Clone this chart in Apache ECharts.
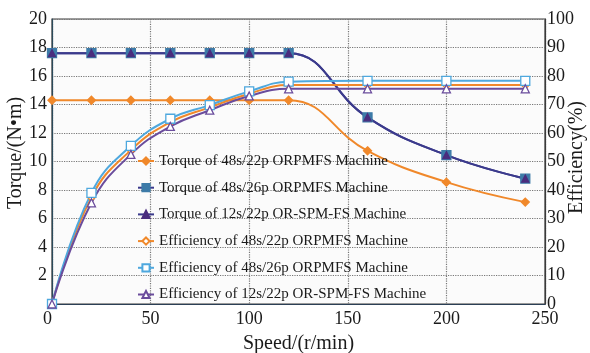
<!DOCTYPE html>
<html>
<head>
<meta charset="utf-8">
<script src="https://cdn.jsdelivr.net/npm/echarts@6/dist/echarts.min.js"></script>
<style>html,body{margin:0;padding:0;background:#fff;}#c{width:590px;height:353px;}</style>
</head>
<body>
<div id="c"></div>
<script>
var speeds = [0, 20, 40, 60, 80, 100, 120, 160, 200, 240];
var torque48s22p = [14.3, 14.3, 14.3, 14.3, 14.3, 14.3, 14.3, 10.75, 8.55, 7.15];
var torque48s26p = [17.6, 17.6, 17.6, 17.6, 17.6, 17.6, 17.6, 13.1, 10.45, 8.8];
var torque12s22p = [17.6, 17.6, 17.6, 17.6, 17.6, 17.6, 17.6, 13.1, 10.45, 8.8];
var eff48s22p = [0, 37.5, 54, 63.8, 69, 73.8, 76.8, 76.8, 76.8, 76.8];
var eff48s26p = [0, 39, 55.5, 65, 69.8, 74.6, 78, 78.3, 78.3, 78.3];
var eff12s22p = [0, 35.5, 52.5, 62.3, 68, 73, 75.5, 75.5, 75.5, 75.5];
var seriesNames = [
  'Torque of 48s/22p ORPMFS Machine',
  'Torque of 48s/26p ORPMFS Machine',
  'Torque of 12s/22p OR-SPM-FS Machine',
  'Efficiency of 48s/22p ORPMFS Machine',
  'Efficiency of 48s/26p ORPMFS Machine',
  'Efficiency of 12s/22p OR-SPM-FS Machine'
];

function pairs(ys) { return speeds.map(function (x, i) { return [x, ys[i]]; }); }

var ORANGE = '#F0882A', NAVY = '#3B3A8C', STEEL = '#3D7BA8', PURPLE = '#4A2D7E',
    LBLUE = '#4EA8DE', LPURPLE = '#6A4C9C';
var FONT = '"Liberation Serif", "Times New Roman", serif';

function mk(name, data, yIdx, lineColor, symbol, size, fill, border) {
  return {
    name: name, type: 'line', yAxisIndex: yIdx, data: pairs(data), smooth: 0.45,
    symbol: symbol, symbolSize: size,
    lineStyle: { color: lineColor, width: 2 },
    itemStyle: { color: fill, borderColor: border, borderWidth: 1.3 },
    emphasis: { disabled: true }
  };
}

var chart = echarts.init(document.getElementById('c'), null, { renderer: 'canvas' });
chart.setOption({
  animation: false,
  backgroundColor: '#fff',
  textStyle: { fontFamily: FONT },
  grid: { left: 52, right: 45, top: 19, bottom: 49, containLabel: false, outerBoundsMode: 'none',
          show: true, borderColor: '#3a3a3a', borderWidth: 1.2, backgroundColor: '#fbfbfb' },
  legend: {
    orient: 'vertical', left: 132, top: 148,
    itemWidth: 16, itemHeight: 9, itemGap: 10.7,
    textStyle: { fontFamily: FONT, fontSize: 15, color: '#1a1a1a', lineHeight: 16 },
    data: seriesNames
  },
  xAxis: {
    type: 'value', min: 0, max: 250, interval: 50,
    name: 'Speed/(r/min)', nameLocation: 'middle', nameGap: 30,
    nameTextStyle: { fontFamily: FONT, fontSize: 20, color: '#1a1a1a' },
    axisLine: { lineStyle: { color: '#2b3f55', width: 1.2 } },
    axisTick: { show: false },
    axisLabel: { fontFamily: FONT, fontSize: 18, color: '#1a1a1a', margin: 6, alignMinLabel: 'right' },
    splitLine: { show: true, lineStyle: { color: '#777', type: 'dotted', width: 1.2 } }
  },
  yAxis: [{
    type: 'value', min: 0, max: 20, interval: 2,
    name: 'Torque/(N•m)', nameLocation: 'middle', nameGap: 26, nameRotate: 90, nameMoveOverlap: false,
    nameTextStyle: { fontFamily: FONT, fontSize: 20, color: '#1a1a1a', padding: [0, 0, 0, 17] },
    axisLine: { show: true, lineStyle: { color: '#2b4a5a', width: 1.2 } },
    axisTick: { show: false },
    axisLabel: { fontFamily: FONT, fontSize: 18, color: '#1a1a1a', margin: 5, showMinLabel: false },
    splitLine: { show: true, lineStyle: { color: '#777', type: 'dotted', width: 1.2 } }
  }, {
    type: 'value', min: 0, max: 100, interval: 10, position: 'right',
    name: 'Efficiency(%)', nameLocation: 'middle', nameGap: 22, nameRotate: 90, nameMoveOverlap: false,
    nameTextStyle: { fontFamily: FONT, fontSize: 20, color: '#1a1a1a', padding: [0, 0, 0, 8] },
    axisLine: { show: true, lineStyle: { color: '#3a3a3a', width: 1.2 } },
    axisTick: { show: false },
    axisLabel: { fontFamily: FONT, fontSize: 18, color: '#1a1a1a', margin: 2 },
    splitLine: { show: false }
  }],
  series: [
    mk(seriesNames[0], torque48s22p, 0, ORANGE, 'diamond', 8, ORANGE, ORANGE),
    mk(seriesNames[1], torque48s26p, 0, NAVY, 'rect', 9, STEEL, STEEL),
    mk(seriesNames[2], torque12s22p, 0, NAVY, 'triangle', 7, PURPLE, PURPLE),
    mk(seriesNames[3], eff48s22p, 1, ORANGE, 'diamond', 8, '#fff', ORANGE),
    mk(seriesNames[4], eff48s26p, 1, LBLUE, 'rect', 9, '#fff', LBLUE),
    mk(seriesNames[5], eff12s22p, 1, LPURPLE, 'triangle', 8, '#fff', LPURPLE)
  ]
});
</script>
</body>
</html>
